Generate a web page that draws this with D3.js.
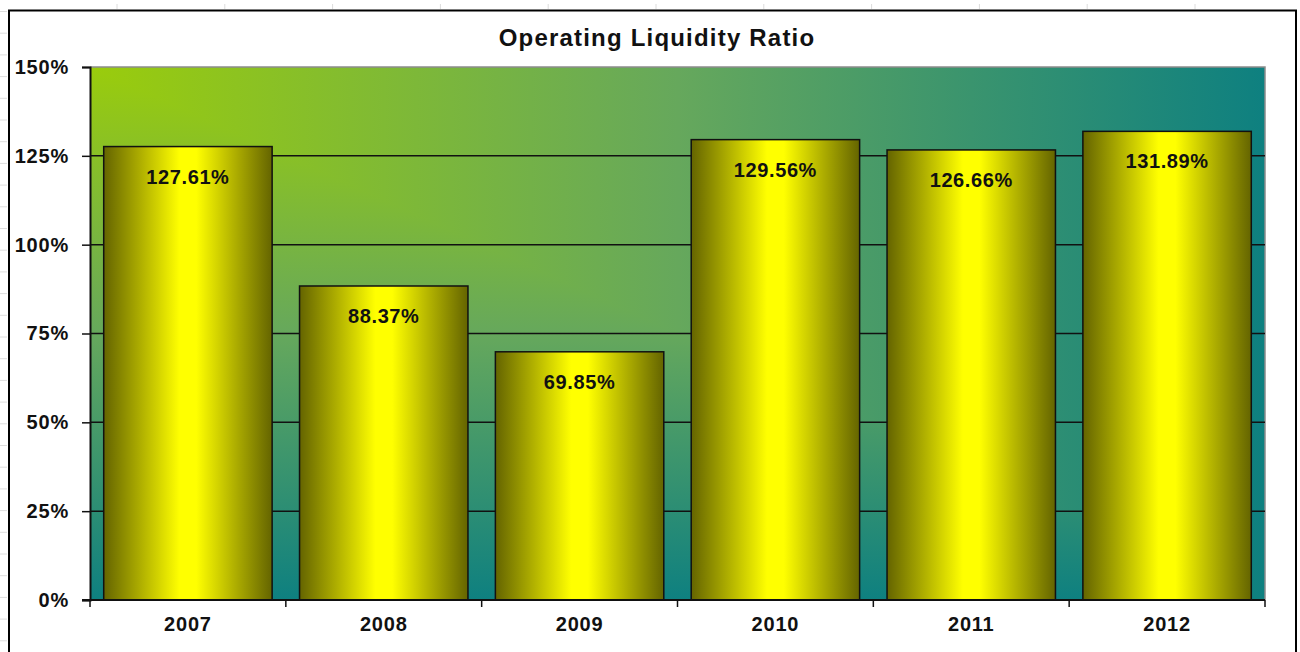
<!DOCTYPE html>
<html>
<head>
<meta charset="utf-8">
<title>Operating Liquidity Ratio</title>
<script src="https://d3js.org/d3.v7.min.js"></script>
<style>
  body { margin: 0; background: #fff; }
  text { font-family: "Liberation Sans", Arial, sans-serif; }
</style>
</head>
<body>
<script>
// chart data
var years = ["2007", "2008", "2009", "2010", "2011", "2012"];
var ratios = [127.61, 88.37, 69.85, 129.56, 126.66, 131.89];
var yTicks = [0, 25, 50, 75, 100, 125, 150];

var size = {width: 1300, height: 652};
var plot = {left: 90, top: 67, right: 1265, bottom: 600};

var svg = d3.select("body").append("svg")
    .attr("width", size.width)
    .attr("height", size.height);

var defs = svg.append("defs");

// "from corner" background: horizontal ramp, lower triangle uses vertical ramp
var bgStops = [[0, "#9acc0c"], [0.5, "#66a85c"], [1, "#0e8080"]];
var gh = defs.append("linearGradient").attr("id", "bgH")
    .attr("x1", 0).attr("y1", 0).attr("x2", 1).attr("y2", 0);
var gv = defs.append("linearGradient").attr("id", "bgV")
    .attr("x1", 0).attr("y1", 0).attr("x2", 0).attr("y2", 1);
bgStops.forEach(function(s){
  gh.append("stop").attr("offset", s[0]).attr("stop-color", s[1]);
  gv.append("stop").attr("offset", s[0]).attr("stop-color", s[1]);
});

// bar shading (dark edges, yellow middle)
var gb = defs.append("linearGradient").attr("id", "barFill")
    .attr("x1", 0).attr("y1", 0).attr("x2", 1).attr("y2", 0);
[[0, "#646400"], [0.2, "#a8a800"], [0.45, "#ffff00"], [0.55, "#ffff00"], [0.8, "#a8a800"], [1, "#646400"]]
  .forEach(function(s){ gb.append("stop").attr("offset", s[0]).attr("stop-color", s[1]); });

// faint sheet grid marks outside the chart
var sheet = svg.append("g").attr("stroke", "#dcdcdc").attr("stroke-width", 1);
for (var i = 0; i < 12; i++) {
  var gx = 117 + i * 107.8;
  sheet.append("line").attr("x1", gx).attr("x2", gx).attr("y1", 4).attr("y2", 9);
}
for (var j = 0; j < 30; j++) {
  var gy = 11.5 + j * 21.7;
  sheet.append("line").attr("x1", 0).attr("x2", 7).attr("y1", gy).attr("y2", gy);
}

// chart frame
svg.append("path")
   .attr("d", "M 9 660 L 9 10.5 L 1296 10.5 L 1296 660")
   .attr("fill", "white")
   .attr("stroke", "black")
   .attr("stroke-width", 2);

// scales
var x = d3.scaleBand().domain(years).range([plot.left, plot.right])
    .paddingInner(0.14).paddingOuter(0.07);
var y = d3.scaleLinear().domain([0, 150]).range([plot.bottom, plot.top]);

// plot background
svg.append("rect")
   .attr("x", plot.left).attr("y", plot.top)
   .attr("width", plot.right - plot.left).attr("height", plot.bottom - plot.top)
   .attr("fill", "url(#bgH)");
svg.append("path")
   .attr("d", "M" + plot.left + "," + plot.top + " L" + plot.left + "," + plot.bottom + " L" + plot.right + "," + plot.bottom + " Z")
   .attr("fill", "url(#bgV)");

// plot border (top/right grey)
svg.append("path")
   .attr("d", "M" + plot.left + "," + plot.top + " L" + plot.right + "," + plot.top + " L" + plot.right + "," + plot.bottom)
   .attr("fill", "none")
   .attr("stroke", "#8c8c8c")
   .attr("stroke-width", 1.5);

// gridlines
svg.append("g").selectAll("line")
   .data(yTicks.filter(function(d){ return d > 0 && d < 150; }))
   .enter().append("line")
   .attr("x1", plot.left).attr("x2", plot.right)
   .attr("y1", function(d){ return y(d); })
   .attr("y2", function(d){ return y(d); })
   .attr("stroke", "#111")
   .attr("stroke-width", 1.5);

// bars
svg.append("g").selectAll("rect")
   .data(ratios)
   .enter().append("rect")
   .attr("x", function(d, i){ return x(years[i]); })
   .attr("y", function(d){ return y(d); })
   .attr("width", x.bandwidth())
   .attr("height", function(d){ return y(0) - y(d); })
   .attr("fill", "url(#barFill)")
   .attr("stroke", "#111")
   .attr("stroke-width", 1.5);

// value labels
svg.append("g").selectAll("text")
   .data(ratios)
   .enter().append("text")
   .attr("x", function(d, i){ return x(years[i]) + x.bandwidth() / 2; })
   .attr("y", function(d){ return y(d) + 37; })
   .attr("text-anchor", "middle")
   .attr("font-size", 20)
   .attr("font-weight", "bold")
   .attr("letter-spacing", 0.6)
   .attr("fill", "#111")
   .text(function(d){ return d.toFixed(2) + "%"; });

// y axis
var yAxis = svg.append("g")
   .attr("transform", "translate(" + plot.left + ",0)")
   .call(d3.axisLeft(y).tickValues(yTicks).tickSize(8).tickPadding(13)
         .tickFormat(function(d){ return d + "%"; }));
yAxis.select(".domain").attr("stroke", "#111").attr("stroke-width", 2);
yAxis.selectAll(".tick line").attr("stroke", "#111").attr("stroke-width", 1.5);
yAxis.selectAll("text").attr("font-size", 20).attr("font-weight", "bold")
     .attr("font-family", "Liberation Sans, Arial, sans-serif").attr("fill", "#111")
     .attr("letter-spacing", 0.8);

// x axis
var xAxis = svg.append("g")
   .attr("transform", "translate(0," + plot.bottom + ")")
   .call(d3.axisBottom(x).tickSize(0).tickPadding(17));
xAxis.select(".domain").remove();
xAxis.append("line")
   .attr("x1", plot.left - 8).attr("x2", plot.right)
   .attr("stroke", "#111").attr("stroke-width", 2);
xAxis.selectAll(".sep")
   .data(d3.range(years.length + 1))
   .enter().append("line")
   .attr("class", "sep")
   .attr("x1", function(i){ return plot.left + i * x.step(); })
   .attr("x2", function(i){ return plot.left + i * x.step(); })
   .attr("y1", 0).attr("y2", 7)
   .attr("stroke", "#111").attr("stroke-width", 1.5);
xAxis.selectAll("text").attr("font-size", 20).attr("font-weight", "bold")
     .attr("font-family", "Liberation Sans, Arial, sans-serif").attr("fill", "#111")
     .attr("letter-spacing", 0.8);

// title
svg.append("text")
   .attr("x", 657)
   .attr("y", 46)
   .attr("text-anchor", "middle")
   .attr("font-size", 24)
   .attr("font-weight", "bold")
   .attr("letter-spacing", 1.2)
   .attr("fill", "#111")
   .text("Operating Liquidity Ratio");
</script>
</body>
</html>
